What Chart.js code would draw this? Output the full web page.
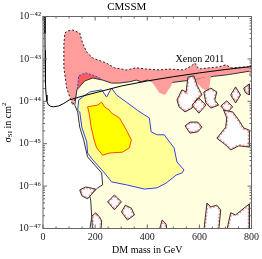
<!DOCTYPE html>
<html>
<head>
<meta charset="utf-8">
<script src="https://cdn.jsdelivr.net/npm/chart.js@4.4.1/dist/chart.umd.min.js"></script>
<style>
  html, body { margin: 0; padding: 0; background: #fff; }
  #wrap { width: 262px; height: 259px; }
</style>
</head>
<body>
<div id="wrap"><canvas id="cmssmChart" width="262" height="259"></canvas></div>
<script>
// every point is [DM mass in GeV, log10(sigma_SI / cm^2)]
const xenon2011 = [[7, -42], [7.5, -42.4], [8, -42.8], [9, -43.3], [10, -43.6], [12, -43.85], [15, -44.0],
  [20, -44.08], [30, -44.12], [40, -44.13], [50, -44.12], [60, -44.11], [80, -44.05], [100, -43.97],
  [150, -43.88], [200, -43.8], [300, -43.64], [400, -43.52], [500, -43.42], [600, -43.33], [700, -43.25], [800, -43.18]];

const pinkRegion = [[84, -42.39], [95, -42.34], [114, -42.32], [141, -42.39], [152, -42.63], [168, -42.84],
  [191, -42.98], [244, -43.10], [274, -43.21], [320, -43.26], [358, -43.21], [396, -43.24], [446, -43.26],
  [484, -43.24], [541, -43.26], [568, -43.17], [583, -43.10], [598, -43.24], [636, -43.21], [674, -43.19],
  [701, -43.14], [724, -43.21], [770, -43.19], [805, -43.19], [805, -43.36], [644, -43.48], [503, -43.62],
  [408, -43.66], [217, -43.66], [130, -43.85], [114, -44.09], [103, -43.90], [91, -43.69], [80, -43.21], [80, -42.67]];

const darkRedPatch = [[130, -43.80], [137, -43.40], [164, -43.33], [191, -43.38], [217, -43.45], [232, -43.52], [179, -43.55]];

const paleRegion = [[792, -43.29], [712, -43.37], [655, -43.41], [617, -43.45], [579, -43.50], [541, -43.52],
  [503, -43.55], [465, -43.57], [427, -43.54], [400, -43.50], [377, -43.54], [358, -43.50], [331, -43.54],
  [293, -43.57], [263, -43.57], [229, -43.50], [191, -43.45], [160, -43.52], [130, -43.73], [122, -44.09],
  [133, -44.25], [141, -44.61], [156, -44.91], [171, -45.31], [198, -45.50], [225, -45.69], [229, -45.97],
  [210, -46.04], [179, -46.23], [183, -46.33], [187, -46.73], [179, -47.05], [792, -47.05]];

const pinkDrips = [
  [[408, -43.47], [503, -43.45], [491, -43.64], [468, -43.85], [446, -43.80], [427, -43.62]],
  [[579, -43.50], [644, -43.40], [636, -43.78], [610, -43.69]]
];

const lightRegion = [[362, -44.21], [389, -44.32], [408, -44.39], [415, -44.72], [438, -44.79], [465, -44.79],
  [503, -45.10], [514, -45.43], [541, -45.62], [533, -45.69], [511, -45.74], [472, -45.93], [438, -46.04],
  [389, -46.07], [320, -45.97], [263, -45.90], [236, -45.69], [191, -45.38], [171, -45.22], [168, -44.96],
  [149, -44.61], [141, -44.25], [133, -44.21], [137, -43.97], [152, -43.90], [179, -43.78], [225, -43.73],
  [244, -43.90], [263, -43.69], [282, -43.85], [320, -44.02]];

const brightRegion = [[171, -44.13], [210, -44.09], [225, -44.02], [236, -44.13], [255, -44.21], [263, -44.28],
  [293, -44.39], [320, -44.68], [339, -44.91], [331, -45.10], [305, -45.20], [255, -45.22], [229, -45.27],
  [206, -45.10], [196, -44.91], [185, -44.61], [177, -44.28]];

const whiteHoles = [
  [[514, -43.97], [533, -43.73], [549, -43.78], [556, -43.43], [579, -43.40], [591, -43.62], [610, -43.85],
   [587, -43.97], [572, -44.16], [545, -44.25], [522, -44.13]],
  [[572, -44.09], [598, -43.92], [625, -44.09], [598, -44.28]],
  [[617, -43.78], [644, -43.69], [667, -43.78], [659, -43.97], [674, -44.09], [644, -44.16], [625, -44.04]],
  [[682, -44.11], [705, -43.99], [728, -44.13], [705, -44.28]],
  [[720, -43.85], [739, -43.66], [758, -43.85], [739, -44.04]],
  [[770, -43.69], [792, -43.59], [792, -43.85], [777, -43.80]],
  [[545, -44.58], [564, -44.49], [594, -44.49], [610, -44.61], [594, -44.72], [564, -44.75]],
  [[693, -44.21], [705, -44.39], [701, -44.61], [667, -44.87], [701, -45.03], [720, -45.15], [751, -45.05],
   [792, -45.08], [792, -44.68], [770, -44.63], [751, -44.44], [728, -44.25]],
  [[141, -46.09], [164, -46.02], [202, -46.07], [187, -46.19], [171, -46.30], [149, -46.23]],
  [[248, -46.37], [274, -46.21], [301, -46.37], [274, -46.56]],
  [[301, -46.61], [316, -46.45], [339, -46.52], [351, -46.68], [324, -46.80]],
  [[187, -46.71], [202, -46.63], [217, -46.73], [225, -46.82], [222, -47.05], [190, -47.05]],
  [[446, -47.05], [457, -46.80], [472, -46.89], [476, -47.05]],
  [[617, -47.05], [629, -46.40], [644, -46.49], [667, -46.45], [682, -46.56], [674, -47.05]],
  [[705, -47.05], [720, -46.63], [739, -46.68], [777, -46.49], [792, -46.42], [792, -47.05]]
];

const xTicks = [0, 200, 400, 600, 800];
const yTicks = [-47, -46, -45, -44, -43, -42];

const serif = "'Liberation Serif', 'DejaVu Serif', serif";
const pink = '#FF9C9C';

function toXY(list, closed) {
  const pts = list.map(([m, l]) => ({ x: m, y: l }));
  return closed ? pts.concat([pts[0]]) : pts;
}

// painter order: first layer at the back
const layers = [
  { points: pinkRegion, closed: true, areaColor: pink, borderColor: '#222', borderDash: [2, 2] },
  { points: darkRedPatch, closed: true, areaColor: '#FF5C5C', borderColor: '#3340E8', borderDash: [2, 1.5] },
  { points: paleRegion, closed: false, areaColor: '#FFFFE0', borderColor: '#333' },
  ...pinkDrips.map(d => ({ points: d, closed: true, areaColor: pink, borderColor: 'rgba(0,0,0,0)' })),
  { points: lightRegion, closed: true, areaColor: '#FFFF96', borderColor: '#3340E8' },
  { points: brightRegion, closed: true, areaColor: '#FFFF00', borderColor: '#FF4A00' },
  ...whiteHoles.map(h => ({ points: h, closed: true, areaColor: '#FFFFFF', rimColor: pink, borderColor: '#333' })),
  { points: xenon2011, closed: false, borderColor: '#000' }
];

const datasets = layers.map((l, i) => ({
  data: toXY(l.points, l.closed),
  showLine: true,
  pointRadius: 0,
  borderWidth: 1,
  borderColor: l.borderColor,
  borderDash: l.borderDash || [],
  areaColor: l.areaColor,
  rimColor: l.rimColor,
  fill: false,
  clip: 0,
  order: layers.length - i
}));

// fills each polygon from the points the scales placed
const polygonFill = {
  id: 'polygonFill',
  beforeDatasetDraw(chart, args) {
    const ds = chart.data.datasets[args.index];
    if (!ds.areaColor) return;
    const { ctx, chartArea: a } = chart;
    const pts = args.meta.data;
    ctx.save();
    ctx.beginPath();
    ctx.rect(a.left, a.top, a.right - a.left, a.bottom - a.top);
    ctx.clip();
    ctx.beginPath();
    pts.forEach((p, i) => i ? ctx.lineTo(p.x, p.y) : ctx.moveTo(p.x, p.y));
    ctx.closePath();
    ctx.fillStyle = ds.areaColor;
    ctx.fill();
    if (ds.rimColor) {
      ctx.clip();
      ctx.strokeStyle = ds.rimColor;
      ctx.lineWidth = 3.5;
      ctx.setLineDash([2, 1.5]);
      ctx.stroke();
    }
    ctx.restore();
  }
};

// Mathematica style frame with inward ticks on all four sides
const frameTicks = {
  id: 'frameTicks',
  afterDraw(chart) {
    const { ctx, chartArea: a, scales: { x, y } } = chart;
    ctx.save();
    ctx.strokeStyle = '#666';
    ctx.lineWidth = 1;
    ctx.strokeRect(a.left, a.top, a.right - a.left, a.bottom - a.top);
    ctx.beginPath();
    for (let m = 0; m <= 800; m += 50) {
      const px = x.getPixelForValue(m);
      const len = m % 200 === 0 ? 4 : 2;
      ctx.moveTo(px, a.bottom); ctx.lineTo(px, a.bottom - len);
      ctx.moveTo(px, a.top); ctx.lineTo(px, a.top + len);
    }
    for (let d = -47; d < -42; d++) {
      for (let k = 1; k <= 9; k++) {
        const py = y.getPixelForValue(d + Math.log10(k));
        const len = k === 1 ? 4 : 2;
        ctx.moveTo(a.left, py); ctx.lineTo(a.left + len, py);
        ctx.moveTo(a.right, py); ctx.lineTo(a.right - len, py);
      }
    }
    ctx.stroke();
    ctx.restore();
  }
};

const xenonLabel = {
  id: 'xenonLabel',
  afterDatasetsDraw(chart) {
    const { ctx, scales: { x, y } } = chart;
    ctx.save();
    ctx.font = '10px ' + serif;
    ctx.fillStyle = '#000';
    ctx.textAlign = 'center';
    ctx.textBaseline = 'middle';
    ctx.fillText('Xenon 2011', x.getPixelForValue(602), y.getPixelForValue(-43.0));
    ctx.restore();
  }
};

const yAxisTitle = {
  id: 'yAxisTitle',
  afterDraw(chart) {
    const { ctx, chartArea: a } = chart;
    const big = '10px ' + serif, small = '7px ' + serif;
    const parts = [['σ', big, 0], ['SI', small, 2.5], [' in cm', big, 0], ['2', small, -3.5]];
    ctx.save();
    ctx.translate(8, (a.top + a.bottom) / 2);
    ctx.rotate(-Math.PI / 2);
    ctx.fillStyle = '#000';
    ctx.textBaseline = 'middle';
    let w = 0;
    parts.forEach(([t, f]) => { ctx.font = f; w += ctx.measureText(t).width; });
    let cx = -w / 2;
    parts.forEach(([t, f, dy]) => { ctx.font = f; ctx.fillText(t, cx, dy); cx += ctx.measureText(t).width; });
    ctx.restore();
  }
};

const sup = { '-': '⁻', '0': '⁰', '1': '¹', '2': '²', '3': '³', '4': '⁴', '5': '⁵', '6': '⁶', '7': '⁷', '8': '⁸', '9': '⁹' };

new Chart(document.getElementById('cmssmChart'), {
  type: 'scatter',
  data: { datasets },
  options: {
    responsive: false,
    animation: false,
    events: [],
    layout: { padding: { top: 0, right: 8.5, bottom: 0, left: 0 } },
    plugins: {
      legend: { display: false },
      tooltip: { enabled: false },
      title: {
        display: true, text: 'CMSSM', color: '#000',
        font: { family: serif, size: 11, weight: 'normal' },
        padding: { top: 1, bottom: 2.3 }
      }
    },
    scales: {
      x: {
        type: 'linear', min: 0, max: 800,
        grid: { display: false, drawTicks: false }, border: { display: false },
        afterBuildTicks: s => { s.ticks = xTicks.map(v => ({ value: v })); },
        ticks: { color: '#222', font: { family: serif, size: 10 }, padding: 3, maxRotation: 0, autoSkip: false },
        title: { display: true, text: 'DM mass in GeV', color: '#000', font: { family: serif, size: 10 }, padding: { top: 0, bottom: 3 } },
        afterFit: s => { s.height = 30.5; }
      },
      y: {
        type: 'linear', min: -47, max: -42,
        grid: { display: false, drawTicks: false }, border: { display: false },
        afterBuildTicks: s => { s.ticks = yTicks.map(v => ({ value: v })); },
        ticks: {
          color: '#222', font: { family: serif, size: 10 }, padding: 2, autoSkip: false,
          callback: v => '10' + String(v).split('').map(c => sup[c]).join('')
        },
        afterFit: s => { s.width = 43; }
      }
    }
  },
  plugins: [polygonFill, frameTicks, xenonLabel, yAxisTitle]
});
</script>
</body>
</html>
